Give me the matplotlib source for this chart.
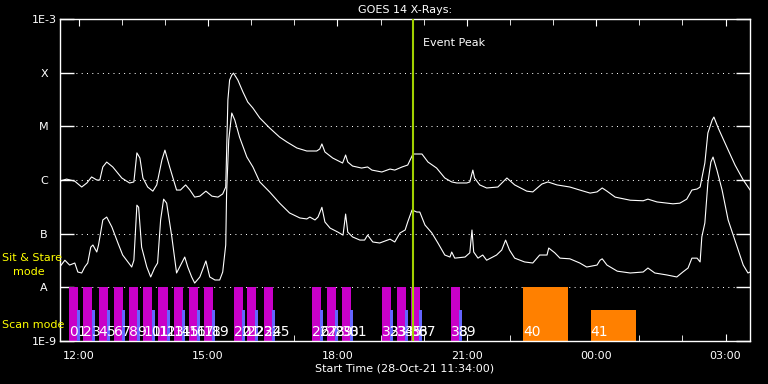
import matplotlib
matplotlib.use("Agg")
import matplotlib.pyplot as plt
from matplotlib.ticker import NullLocator

# Horas del 28-Oct-21 (valores > 24 = dia siguiente)
t_long = [11.56, 11.72, 11.91, 12.07, 12.19, 12.30, 12.42, 12.49, 12.56, 12.65, 12.79, 13.00,
          13.18, 13.28, 13.35, 13.42, 13.49, 13.60, 13.72, 13.81, 13.93, 14.00, 14.11, 14.27,
          14.36, 14.48, 14.58, 14.69, 14.81, 14.95, 15.09, 15.23, 15.34, 15.41, 15.43, 15.46,
          15.50, 15.55, 15.59, 15.69, 15.81, 15.92, 16.04, 16.20, 16.43, 16.66, 16.83, 17.06,
          17.29, 17.52, 17.59, 17.64, 17.71, 17.89, 18.12, 18.19, 18.24, 18.35, 18.56, 18.70,
          18.80, 19.03, 19.22, 19.33, 19.50, 19.63, 19.73, 19.75, 19.96, 20.10, 20.30, 20.49,
          20.65, 20.77, 21.00, 21.07, 21.14, 21.18, 21.30, 21.46, 21.72, 21.93, 22.11, 22.39,
          22.53, 22.74, 22.88, 23.09, 23.39, 23.62, 23.86, 24.02, 24.14, 24.25, 24.44, 24.79,
          25.09, 25.20, 25.41, 25.78, 25.94, 26.10, 26.22, 26.34, 26.41, 26.52, 26.59, 26.69,
          26.73, 26.83, 27.03, 27.22, 27.41, 27.57]
flux_long = [9.5e-7, 1.04e-6, 9.5e-7, 7.4e-7, 8.8e-7, 1.14e-6, 1.0e-6, 1.0e-6, 1.75e-6, 2.16e-6,
             1.75e-6, 1.09e-6, 8.8e-7, 9.2e-7, 3.2e-6, 2.57e-6, 1.09e-6, 7.4e-7, 6.2e-7, 8.1e-7,
             2.36e-6, 3.6e-6, 1.75e-6, 6.5e-7, 6.5e-7, 8.1e-7, 6.5e-7, 4.8e-7, 5.0e-7, 6.2e-7,
             5.0e-7, 4.8e-7, 5.5e-7, 7.4e-7, 3.2e-6, 3.1e-5, 7.3e-5, 9.0e-5, 9.8e-5, 7.3e-5,
             4.35e-5, 2.84e-5, 2.19e-5, 1.43e-5, 9.3e-6, 6.3e-6, 5.1e-6, 3.95e-6, 3.47e-6, 3.47e-6,
             3.78e-6, 4.7e-6, 3.33e-6, 2.57e-6, 2.07e-6, 2.92e-6, 2.16e-6, 1.82e-6, 1.67e-6, 1.75e-6,
             1.53e-6, 1.41e-6, 1.60e-6, 1.53e-6, 1.75e-6, 1.90e-6, 2.8e-6, 3.05e-6, 3.05e-6, 2.16e-6,
             1.67e-6, 1.09e-6, 9.2e-7, 8.8e-7, 8.8e-7, 9.2e-7, 1.53e-6, 1.09e-6, 8.1e-7, 7.1e-7,
             7.4e-7, 1.09e-6, 8.1e-7, 6.2e-7, 6.0e-7, 8.4e-7, 9.2e-7, 8.1e-7, 7.4e-7, 6.5e-7,
             5.7e-7, 6.0e-7, 7.1e-7, 6.2e-7, 4.8e-7, 4.2e-7, 4.1e-7, 4.4e-7, 3.9e-7, 3.6e-7,
             3.7e-7, 4.4e-7, 6.5e-7, 6.8e-7, 7.4e-7, 2.07e-6, 7.5e-6, 1.31e-5, 1.49e-5, 9.3e-6,
             4.1e-6, 1.90e-6, 1.0e-6, 6.5e-7]

t_short = [11.56, 11.68, 11.79, 11.91, 11.98, 12.07, 12.14, 12.21, 12.28, 12.33, 12.42, 12.46,
           12.56, 12.65, 12.77, 12.91, 13.02, 13.14, 13.23, 13.28, 13.35, 13.39, 13.46, 13.58,
           13.67, 13.76, 13.83, 13.90, 13.97, 14.04, 14.16, 14.27, 14.34, 14.46, 14.53, 14.62,
           14.69, 14.81, 14.95, 15.04, 15.16, 15.27, 15.34, 15.41, 15.43, 15.48, 15.55, 15.62,
           15.73, 15.90, 16.04, 16.20, 16.43, 16.66, 16.89, 17.13, 17.29, 17.36, 17.48, 17.55,
           17.64, 17.71, 17.83, 18.01, 18.13, 18.19, 18.24, 18.35, 18.52, 18.63, 18.70, 18.82,
           18.98, 19.22, 19.33, 19.45, 19.57, 19.63, 19.73, 19.84, 19.91, 20.03, 20.19, 20.33,
           20.49, 20.61, 20.65, 20.72, 20.96, 21.07, 21.12, 21.16, 21.26, 21.37, 21.46, 21.69,
           21.81, 21.90, 21.99, 22.11, 22.34, 22.53, 22.69, 22.86, 22.90, 23.04, 23.16, 23.39,
           23.62, 23.78, 24.02, 24.09, 24.14, 24.25, 24.49, 24.79, 25.09, 25.20, 25.36, 25.64,
           25.87, 26.01, 26.13, 26.22, 26.34, 26.41, 26.45, 26.52, 26.59, 26.66, 26.71, 26.80,
           26.92, 27.06, 27.27, 27.41, 27.52, 27.57]
flux_short = [2.39e-8, 3.2e-8, 2.6e-8, 2.84e-8, 1.93e-8, 1.85e-8, 2.39e-8, 2.84e-8, 5.6e-8, 6.15e-8,
              4.55e-8, 6.15e-8, 1.8e-7, 2.04e-7, 1.33e-7, 6.7e-8, 4.0e-8, 2.97e-8, 2.39e-8, 3.2e-8,
              3.4e-7, 3.1e-7, 5.6e-8, 2.39e-8, 1.56e-8, 2.29e-8, 2.84e-8, 1.8e-7, 4.4e-7, 3.7e-7,
              8.7e-8, 1.85e-8, 2.39e-8, 3.67e-8, 2.39e-8, 1.56e-8, 1.2e-8, 1.56e-8, 3.1e-8, 1.56e-8,
              1.37e-8, 1.37e-8, 1.93e-8, 6.15e-8, 5.7e-7, 5.6e-6, 1.77e-5, 1.31e-5, 6.3e-6, 2.68e-6,
              1.75e-6, 9.2e-7, 5.97e-7, 3.7e-7, 2.43e-7, 1.96e-7, 1.88e-7, 2.04e-7, 1.8e-7, 2.04e-7,
              3.1e-7, 1.65e-7, 1.27e-7, 1.07e-7, 9.4e-8, 2.32e-7, 1.07e-7, 8.7e-8, 7.6e-8, 7.6e-8,
              9.4e-8, 7.0e-8, 6.7e-8, 7.9e-8, 7.0e-8, 1.03e-7, 1.17e-7, 1.65e-7, 2.76e-7, 2.53e-7,
              2.53e-7, 1.45e-7, 1.03e-7, 6.7e-8, 4.0e-8, 3.67e-8, 4.55e-8, 3.5e-8, 3.67e-8, 4.4e-8,
              1.17e-7, 4.55e-8, 3.5e-8, 4.0e-8, 3.2e-8, 4.0e-8, 4.96e-8, 7.6e-8, 4.96e-8, 3.5e-8,
              2.97e-8, 2.84e-8, 4.0e-8, 4.0e-8, 5.4e-8, 4.4e-8, 3.5e-8, 3.4e-8, 2.84e-8, 2.39e-8,
              2.6e-8, 3.2e-8, 3.4e-8, 2.6e-8, 2.0e-8, 1.85e-8, 1.93e-8, 2.29e-8, 1.85e-8, 1.7e-8,
              1.56e-8, 1.93e-8, 2.29e-8, 3.5e-8, 3.5e-8, 2.97e-8, 8.7e-8, 1.58e-7, 8.8e-7, 2.16e-6,
              2.68e-6, 1.53e-6, 6.5e-7, 1.8e-7, 5.6e-8, 2.6e-8, 1.85e-8, 1.93e-8]

# Observaciones (sit & stare = magenta, con su par azul)
obs_start = [11.77, 12.11, 12.46, 12.81, 13.16, 13.50, 13.85, 14.20, 14.55, 14.90,
             15.60, 15.90, 16.29, 17.41, 17.75, 18.10, 19.03, 19.38, 19.70, 20.63]
obs_dur = 0.21
pair_offset = 0.19
pair_dur = 0.07
obs_top = 1e-8
pair_top = 3.8e-9

# Observaciones en modo scan (naranja)
scan_start = [22.30, 23.87]
scan_end = [23.34, 24.92]
scan_top = [1e-8, 3.8e-9]
scan_ids = ["40", "41"]

peak_time = 19.75
start_time = 11.567
end_time = 27.567

ytick_vals = [1e-9, 1e-8, 1e-7, 1e-6, 1e-5, 1e-4, 1e-3]
ytick_labels = ["1E-9", "A", "B", "C", "M", "X", "1E-3"]
xtick_vals = [12, 15, 18, 21, 24, 27]
xtick_labels = ["12:00", "15:00", "18:00", "21:00", "00:00", "03:00"]

fig = plt.figure(figsize=(7.68, 3.84), dpi=100, facecolor="black")
ax = fig.add_axes([60 / 768, 43 / 384, 690 / 768, 322 / 384])
ax.set_facecolor("black")
ax.set_yscale("log")
ax.set_ylim(1e-9, 1e-3)
ax.set_xlim(start_time, end_time)

# lineas punteadas en los niveles de clase
for lvl in ytick_vals[1:-1]:
    ax.axhline(lvl, color="white", lw=0.72, ls=(0, (1, 4.3)), zorder=1)

# barras de observaciones
pair_start = [s + pair_offset for s in obs_start]
ax.bar(obs_start, [obs_top - 1e-9] * len(obs_start), width=obs_dur, bottom=1e-9,
       align="edge", color="#c800c8", zorder=2)
ax.bar(pair_start, [pair_top - 1e-9] * len(pair_start), width=pair_dur, bottom=1e-9,
       align="edge", color="#6464ff", zorder=3)
ax.bar(scan_start, [t - 1e-9 for t in scan_top],
       width=[e - s for s, e in zip(scan_start, scan_end)], bottom=1e-9,
       align="edge", color="#ff8000", zorder=2)

for k, s in enumerate(obs_start):
    ax.text(s, 1.07e-9, str(2 * k), color="white", fontsize=10, ha="left", va="bottom", zorder=5)
    ax.text(pair_start[k], 1.07e-9, str(2 * k + 1), color="white", fontsize=10,
            ha="left", va="bottom", zorder=5)
for s, lab in zip(scan_start, scan_ids):
    ax.text(s, 1.07e-9, lab, color="white", fontsize=10, ha="left", va="bottom", zorder=5)

# curvas GOES
ax.plot(t_long, flux_long, color="white", lw=0.8, zorder=4)
ax.plot(t_short, flux_short, color="white", lw=0.8, zorder=4)

ax.axvline(peak_time, color="#a0d000", lw=1.5, zorder=6)
ax.text(0.526, 0.925, "Event Peak", transform=ax.transAxes, color="white", fontsize=8,
        ha="left", va="center")

# ejes
ax.set_yticks(ytick_vals)
ax.set_yticklabels(ytick_labels)
ax.yaxis.set_minor_locator(NullLocator())
ax.tick_params(axis="y", which="major", direction="in", length=10, width=1, color="white",
               left=True, right=True, labelcolor="white", labelsize=8, pad=11.5)
for lbl in ax.get_yticklabels():
    lbl.set_horizontalalignment("center")

ax.set_xticks(xtick_vals)
ax.set_xticklabels(xtick_labels)
ax.set_xticks(range(12, 28), minor=True)
ax.tick_params(axis="x", which="both", direction="in", top=True, bottom=True, color="white",
               labelcolor="white", labelsize=8, pad=7)
ax.tick_params(axis="x", which="major", length=5)
ax.tick_params(axis="x", which="minor", length=4)

for sp in ax.spines.values():
    sp.set_color("white")
    sp.set_linewidth(1)

ax.set_title("GOES 14 X-Rays:", color="white", fontsize=8, pad=4)
ax.set_xlabel("Start Time (28-Oct-21 11:34:00)", color="white", fontsize=8, labelpad=2)

fig.text(2 / 768, 1 - 258 / 384, "Sit & Stare", color="yellow", fontsize=8, va="center")
fig.text(13 / 768, 1 - 272 / 384, "mode", color="yellow", fontsize=8, va="center")
fig.text(2 / 768, 1 - 325 / 384, "Scan mode", color="yellow", fontsize=8, va="center")

fig.savefig("out.png", dpi=100, facecolor="black")
